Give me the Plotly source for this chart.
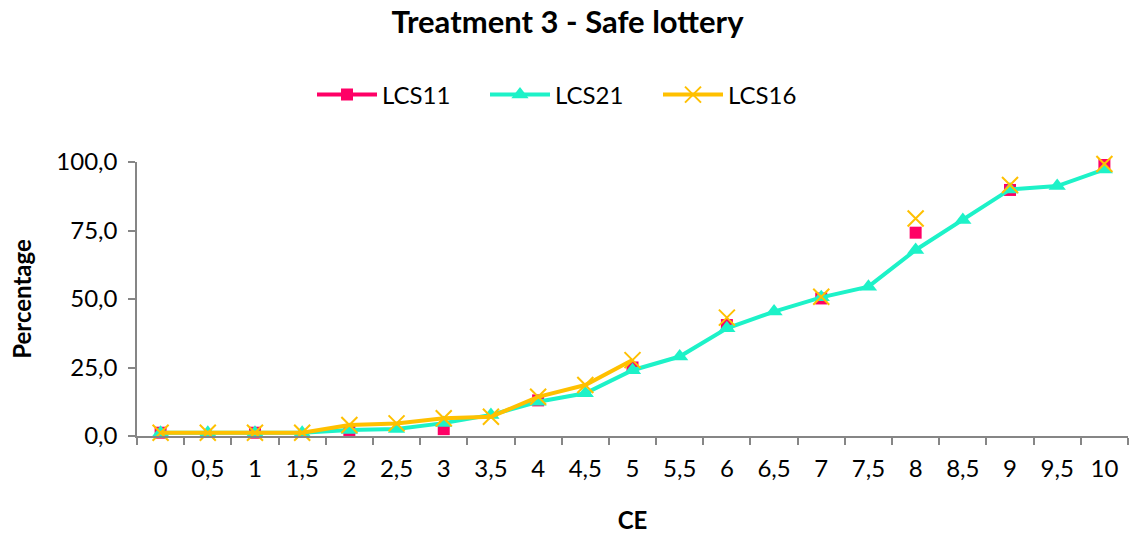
import plotly.graph_objects as go

categories = ["0", "0,5", "1", "1,5", "2", "2,5", "3", "3,5", "4", "4,5", "5",
              "5,5", "6", "6,5", "7", "7,5", "8", "8,5", "9", "9,5", "10"]

lcs11 = [1.2, None, 1.2, None, 2.2, None, 2.5, None, 13.0, None, 25.0,
         None, 40.5, None, 50.2, None, 74.2, None, 89.8, None, 98.9]
lcs21 = [1.2, 1.2, 1.2, 1.2, 2.2, 2.6, 4.7, 7.7, 12.5, 15.6, 24.0,
         29.0, 39.3, 45.4, 50.6, 54.5, 67.9, 78.8, 90.0, 91.2, 97.3]
lcs16 = [1.2, 1.2, 1.2, 1.2, 4.0, 4.6, 6.5, 7.0, 14.3, 18.6, 27.7,
         None, 43.2, None, 50.8, None, 79.4, None, 91.6, None, 99.3]

y_ticks = [0, 25, 50, 75, 100]
y_tick_labels = ["0,0", "25,0", "50,0", "75,0", "100,0"]

PINK = "#FF0066"
CYAN = "#1DF2C8"
ORANGE = "#FFC000"
FONT = "Lato"

fig = go.Figure()
fig.add_trace(go.Scatter(
    x=categories, y=lcs11, name="LCS11", mode="lines+markers",
    line=dict(color=PINK, width=4), connectgaps=False,
    marker=dict(symbol="square", size=12, color=PINK), cliponaxis=False))
fig.add_trace(go.Scatter(
    x=categories, y=lcs21, name="LCS21", mode="lines+markers",
    line=dict(color=CYAN, width=4), connectgaps=False,
    marker=dict(symbol="triangle-up", size=15, color=CYAN), cliponaxis=False))
fig.add_trace(go.Scatter(
    x=categories, y=lcs16, name="LCS16", mode="lines+markers",
    line=dict(color=ORANGE, width=4), connectgaps=False,
    marker=dict(symbol="x-thin", size=16, color=ORANGE,
                line=dict(color=ORANGE, width=2)), cliponaxis=False))

fig.update_layout(
    width=1135, height=534,
    margin=dict(l=137, r=7, t=162, b=98),
    paper_bgcolor="white", plot_bgcolor="white",
    font=dict(family=FONT, color="black", size=24),
    title=dict(text="<b>Treatment 3 - Safe lottery</b>", x=0.5, xref="container",
               y=1 - 22 / 534, yref="container", xanchor="center", yanchor="middle",
               font=dict(family=FONT, size=31, color="black")),
    legend=dict(orientation="h", x=(567.5 + 4) / 1135, xref="container", xanchor="center",
                y=1 - 95 / 534, yref="container", yanchor="middle",
                font=dict(family=FONT, size=24), itemwidth=60,
                entrywidth=98, entrywidthmode="pixels",
                bgcolor="rgba(0,0,0,0)"),
    showlegend=True,
)
fig.update_xaxes(
    type="category", range=[-0.5, 20.5], tickson="boundaries",
    ticks="outside", ticklen=7, tickcolor="#868686", tickwidth=1.5,
    showline=True, linecolor="#868686", linewidth=1.5, showgrid=False, zeroline=False,
    tickfont=dict(family=FONT, size=24), ticklabelstandoff=10, automargin=False,
    title=dict(text="<b>CE</b>", font=dict(family=FONT, size=24), standoff=32),
)
fig.update_yaxes(
    range=[0, 100], tickvals=y_ticks, ticktext=y_tick_labels,
    ticks="outside", ticklen=7, tickcolor="#868686", tickwidth=1.5,
    showline=True, linecolor="#868686", linewidth=1.5, showgrid=False, zeroline=False,
    tickfont=dict(family=FONT, size=24), ticklabelstandoff=6, automargin=False,
    title=dict(text="<b>Percentage</b>", font=dict(family=FONT, size=24), standoff=18),
)

fig.write_html("out.html")
